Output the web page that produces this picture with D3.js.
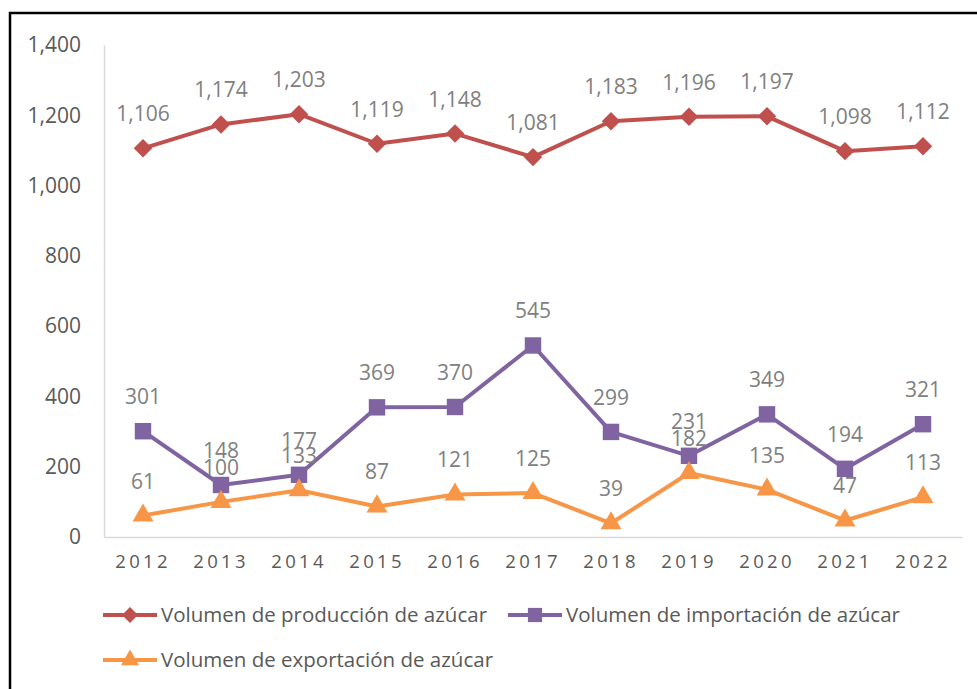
<!DOCTYPE html>
<html>
<head>
<meta charset="utf-8">
<script src="https://cdn.jsdelivr.net/npm/d3@7"></script>
<style>
  body { margin: 0; background: #fff; }
  svg text { font-family: "Open Sans", "Noto Sans", sans-serif; }
</style>
</head>
<body>
<div id="chart"></div>
<script>
var years = ["2012", "2013", "2014", "2015", "2016", "2017", "2018", "2019", "2020", "2021", "2022"];
var produccion = [1106, 1174, 1203, 1119, 1148, 1081, 1183, 1196, 1197, 1098, 1112];
var importacion = [301, 148, 177, 369, 370, 545, 299, 231, 349, 194, 321];
var exportacion = [61, 100, 133, 87, 121, 125, 39, 182, 135, 47, 113];
var yTicks = [0, 200, 400, 600, 800, 1000, 1200, 1400];

var width = 977, height = 689;
var svg = d3.select('#chart').append('svg')
  .attr('width', width)
  .attr('height', height);

// outer frame
svg.append('rect')
  .attr('x', 10).attr('y', 13)
  .attr('width', 1000).attr('height', 700)
  .attr('fill', 'none')
  .attr('stroke', '#000')
  .attr('stroke-width', 2.5);

var x = d3.scaleBand().domain(years).range([104, 962]);
var y = d3.scaleLinear().domain([0, 1400]).range([537, 45]);
var cx = function (d, i) { return x(years[i]) + x.bandwidth() / 2; };

// axes
var yAxis = svg.append('g')
  .attr('transform', 'translate(104,0)')
  .call(d3.axisLeft(y).tickValues(yTicks).tickSize(0).tickPadding(23).tickFormat(d3.format(',')));
yAxis.select('.domain').attr('stroke', '#d9d9d9').attr('stroke-width', 1.5);
yAxis.selectAll('text').attr('fill', '#595959').style('font-size', '21px');

var xAxis = svg.append('g')
  .attr('transform', 'translate(0,537)')
  .call(d3.axisBottom(x).tickSize(0).tickPadding(18));
xAxis.select('.domain').attr('stroke', '#d9d9d9').attr('stroke-width', 1.5);
xAxis.selectAll('text').attr('fill', '#595959').style('font-size', '18.5px')
  .style('letter-spacing', '3.3px').attr('dy', '0.71em');

var series = [
  { name: 'Volumen de producción de azúcar', values: produccion, color: '#C0504D', symbol: d3.symbolDiamond, size: 170 },
  { name: 'Volumen de importación de azúcar', values: importacion, color: '#8064A2', symbol: d3.symbolSquare, size: 270 },
  { name: 'Volumen de exportación de azúcar', values: exportacion, color: '#F79646', symbol: d3.symbolTriangle, size: 190 }
];

var line = d3.line()
  .x(cx)
  .y(function (d) { return y(d); });

var markerPath = function (s, size) {
  if (s.symbol === d3.symbolDiamond) return d3.symbol().type(d3.symbolSquare).size(size)();
  return d3.symbol().type(s.symbol).size(size)();
};

series.forEach(function (s) {
  svg.append('path')
    .datum(s.values)
    .attr('d', line)
    .attr('fill', 'none')
    .attr('stroke', s.color)
    .attr('stroke-width', 4)
    .attr('stroke-linejoin', 'round');

  svg.append('g').selectAll('path').data(s.values).enter().append('path')
    .attr('d', markerPath(s, s.size))
    .attr('transform', function (d, i) {
      var t = 'translate(' + cx(d, i) + ',' + y(d) + ')';
      if (s.symbol === d3.symbolDiamond) t += ' rotate(45)';
      return t;
    })
    .attr('fill', s.color);

  svg.append('g').selectAll('text').data(s.values).enter().append('text')
    .attr('x', cx)
    .attr('y', function (d) { return y(d) - 27; })
    .attr('text-anchor', 'middle')
    .attr('fill', '#808080')
    .style('font-size', '21px')
    .text(function (d) { return d3.format(',')(d); });
});

// legend
var legendPos = [[103, 615], [508, 615], [103, 660]];
series.forEach(function (s, i) {
  var g = svg.append('g').attr('transform', 'translate(' + legendPos[i][0] + ',' + legendPos[i][1] + ')');
  g.append('line')
    .attr('x1', 0).attr('x2', 54).attr('y1', 0).attr('y2', 0)
    .attr('stroke', s.color).attr('stroke-width', 4);
  g.append('path')
    .attr('d', markerPath(s, s.size * 0.75))
    .attr('transform', 'translate(27,0)' + (s.symbol === d3.symbolDiamond ? ' rotate(45)' : ''))
    .attr('fill', s.color);
  g.append('text')
    .attr('x', 58).attr('y', 0).attr('dy', '0.35em')
    .attr('fill', '#595959')
    .style('font-size', '20.5px')
    .text(s.name);
});
</script>
</body>
</html>
